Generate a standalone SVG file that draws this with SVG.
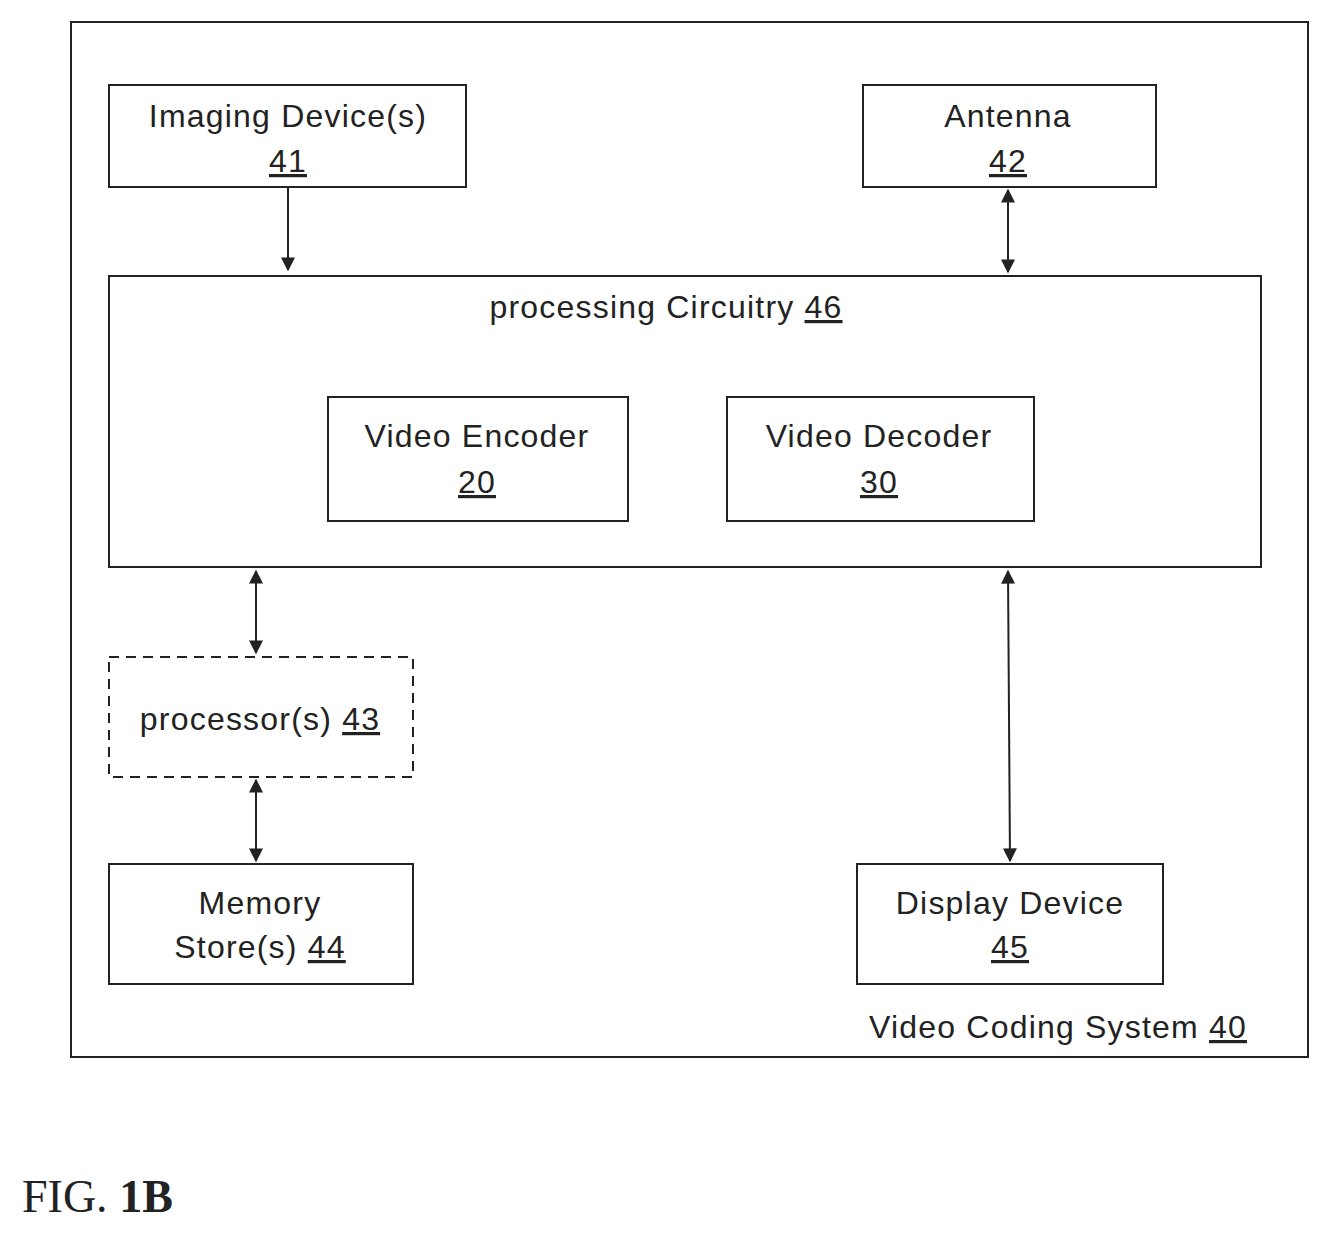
<svg xmlns="http://www.w3.org/2000/svg" width="1331" height="1236" viewBox="0 0 1331 1236">
<style>
.b{fill:#fff;stroke:#222;stroke-width:2}
.t{font-family:"Liberation Sans",Arial,sans-serif;font-size:32px;fill:#222;text-anchor:middle;letter-spacing:1.2px}
.u{text-decoration:underline}
.c{stroke:#222;stroke-width:2;fill:none}
</style>
<defs><marker id="a" viewBox="0 0 10 10" refX="9" refY="5" markerWidth="14" markerHeight="14" markerUnits="userSpaceOnUse" orient="auto-start-reverse"><path d="M0,0L10,5L0,10z" fill="#222"/></marker></defs>
<rect width="1331" height="1236" fill="#fff"/>
<g id="system"><rect class="b" x="71" y="22" width="1237" height="1035"/><text class="t" x="1058" y="1038">Video Coding System <tspan class="u">40</tspan></text></g>
<g id="n41"><rect class="b" x="109" y="85" width="357" height="102"/><text class="t" x="288" y="127">Imaging Device(s)</text><text class="t u" x="288" y="172">41</text></g>
<g id="n42"><rect class="b" x="863" y="85" width="293" height="102"/><text class="t" x="1008" y="127">Antenna</text><text class="t u" x="1008" y="172">42</text></g>
<g id="n46"><rect class="b" x="109" y="276" width="1152" height="291"/><text class="t" x="666" y="318">processing Circuitry <tspan class="u">46</tspan></text></g>
<g id="n20"><rect class="b" x="328" y="397" width="300" height="124"/><text class="t" x="477" y="447">Video Encoder</text><text class="t u" x="477" y="493">20</text></g>
<g id="n30"><rect class="b" x="727" y="397" width="307" height="124"/><text class="t" x="879" y="447">Video Decoder</text><text class="t u" x="879" y="493">30</text></g>
<g id="n43"><rect class="b" x="109" y="657" width="304" height="120" stroke-dasharray="10,7"/><text class="t" x="260" y="730">processor(s) <tspan class="u">43</tspan></text></g>
<g id="n44"><rect class="b" x="109" y="864" width="304" height="120"/><text class="t" x="260" y="914">Memory</text><text class="t" x="260" y="958">Store(s) <tspan class="u">44</tspan></text></g>
<g id="n45"><rect class="b" x="857" y="864" width="306" height="120"/><text class="t" x="1010" y="914">Display Device</text><text class="t u" x="1010" y="958">45</text></g>
<g id="connectors">
<line class="c" x1="288" y1="188" x2="288" y2="270" marker-end="url(#a)"/>
<line class="c" x1="1008" y1="190" x2="1008" y2="272" marker-start="url(#a)" marker-end="url(#a)"/>
<line class="c" x1="256" y1="571" x2="256" y2="653" marker-start="url(#a)" marker-end="url(#a)"/>
<line class="c" x1="256" y1="780" x2="256" y2="861" marker-start="url(#a)" marker-end="url(#a)"/>
<line class="c" x1="1008" y1="571" x2="1010" y2="861" marker-start="url(#a)" marker-end="url(#a)"/>
</g>
<text x="22" y="1212" style="font-family:'Liberation Serif',serif;font-size:46px;fill:#222">FIG. <tspan font-weight="bold">1B</tspan></text>
</svg>
